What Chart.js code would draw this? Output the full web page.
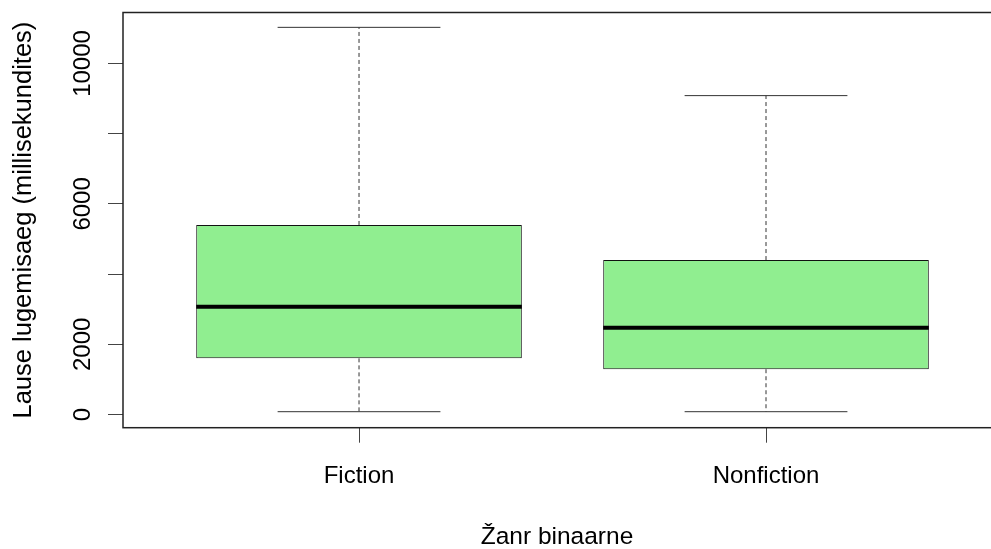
<!DOCTYPE html>
<html>
<head>
<meta charset="utf-8">
<title>Lause lugemisaeg</title>
<script src="https://cdn.jsdelivr.net/npm/chart.js@4.4.1/dist/chart.umd.min.js"></script>
<style>
  html, body { margin: 0; padding: 0; background: #fff; overflow: hidden; }
  #chart { display: block; }
</style>
</head>
<body>
<canvas id="chart" width="991" height="549"></canvas>
<script>
// box plot values (milliseconds)
const categories = ["Fiction", "Nonfiction"];
const whiskerLow = [80, 80];
const q1 = [1600, 1290];
const median = [3070, 2475];
const q3 = [5400, 4400];
const whiskerHigh = [11030, 9085];

const yTicks = [0, 2000, 4000, 6000, 8000, 10000];
const yTickLabels = ["0", "2000", "", "6000", "", "10000"];

const FONT = "'Liberation Sans', Arial, sans-serif";

// whiskers, caps, medians, frame and rotated y labels
const boxExtras = {
  id: "boxExtras",
  afterDatasetsDraw(chart) {
    const ctx = chart.ctx;
    const xs = chart.scales.x;
    const ys = chart.scales.y;
    const area = chart.chartArea;

    ctx.save();
    categories.forEach((c, i) => {
      const x = xs.getPixelForValue(i + 1);
      const capL = xs.getPixelForValue(i + 1 - 0.2);
      const capR = xs.getPixelForValue(i + 1 + 0.2);
      const boxL = xs.getPixelForValue(i + 1 - 0.4);
      const boxR = xs.getPixelForValue(i + 1 + 0.4);

      // dashed whiskers
      ctx.strokeStyle = "#333";
      ctx.lineWidth = 1;
      ctx.setLineDash([4, 3]);
      ctx.beginPath();
      ctx.moveTo(x, ys.getPixelForValue(q3[i]));
      ctx.lineTo(x, ys.getPixelForValue(whiskerHigh[i]));
      ctx.moveTo(x, ys.getPixelForValue(q1[i]));
      ctx.lineTo(x, ys.getPixelForValue(whiskerLow[i]));
      ctx.stroke();

      // caps
      ctx.setLineDash([]);
      ctx.beginPath();
      ctx.moveTo(capL, ys.getPixelForValue(whiskerHigh[i]));
      ctx.lineTo(capR, ys.getPixelForValue(whiskerHigh[i]));
      ctx.moveTo(capL, ys.getPixelForValue(whiskerLow[i]));
      ctx.lineTo(capR, ys.getPixelForValue(whiskerLow[i]));
      ctx.stroke();

      // median
      ctx.strokeStyle = "#000";
      ctx.lineWidth = 4;
      ctx.beginPath();
      ctx.moveTo(boxL, ys.getPixelForValue(median[i]));
      ctx.lineTo(boxR, ys.getPixelForValue(median[i]));
      ctx.stroke();
    });

    // plot frame (right edge runs off the canvas)
    ctx.strokeStyle = "#222";
    ctx.lineWidth = 1.5;
    ctx.strokeRect(area.left, area.top, area.right - area.left + 20, area.bottom - area.top);

    // rotated y tick labels
    ctx.fillStyle = "#000";
    ctx.font = "24px " + FONT;
    ctx.textAlign = "center";
    ctx.textBaseline = "alphabetic";
    yTicks.forEach((v, i) => {
      if (!yTickLabels[i]) return;
      ctx.save();
      ctx.translate(90, ys.getPixelForValue(v));
      ctx.rotate(-Math.PI / 2);
      ctx.fillText(yTickLabels[i], 0, 0);
      ctx.restore();
    });
    ctx.restore();
  }
};

new Chart(document.getElementById("chart"), {
  type: "bar",
  data: {
    datasets: [
      {
        label: "Lause lugemisaeg",
        data: categories.map((c, i) => ({ x: i + 1, y: [q1[i], q3[i]] })),
        backgroundColor: "#90EE90",
        borderColor: "#111",
        borderWidth: 1,
        borderSkipped: false,
        barPercentage: 0.8,
        categoryPercentage: 1.0
      }
    ]
  },
  options: {
    responsive: false,
    animation: false,
    layout: { padding: { top: 12.5, right: 0, bottom: 0, left: 0 } },
    plugins: {
      legend: { display: false },
      tooltip: { enabled: false }
    },
    scales: {
      x: {
        type: "linear",
        position: "bottom",
        offset: false,
        min: 0.4201,
        max: 2.5528,
        afterBuildTicks: (scale) => {
          scale.ticks = categories.map((c, i) => ({ value: i + 1 }));
        },
        afterFit: (scale) => { scale.height = 121.3; },
        ticks: {
          callback: (v) => categories[v - 1],
          color: "#000",
          font: { family: FONT, size: 24 },
          padding: 19,
          maxRotation: 0
        },
        grid: {
          display: true,
          offset: false,
          drawOnChartArea: false,
          drawTicks: true,
          tickLength: 15,
          color: "#444"
        },
        border: { display: false },
        title: {
          display: true,
          text: "Žanr binaarne",
          color: "#000",
          font: { family: FONT, size: 24.5, lineHeight: 1.0 },
          padding: { top: 0, bottom: 0 }
        }
      },
      y: {
        type: "linear",
        min: -376,
        max: 11453,
        afterBuildTicks: (scale) => {
          scale.ticks = yTicks.map((v) => ({ value: v }));
        },
        afterFit: (scale) => { scale.width = 123; },
        ticks: { display: false },
        grid: {
          display: true,
          drawOnChartArea: false,
          drawTicks: true,
          tickLength: 15,
          color: "#444"
        },
        border: { display: false },
        title: {
          display: true,
          text: "Lause lugemisaeg (millisekundites)",
          color: "#000",
          font: { family: FONT, size: 25.5, lineHeight: 1.2 },
          padding: { top: 9, bottom: 0 }
        }
      }
    }
  },
  plugins: [boxExtras]
});
</script>
</body>
</html>
